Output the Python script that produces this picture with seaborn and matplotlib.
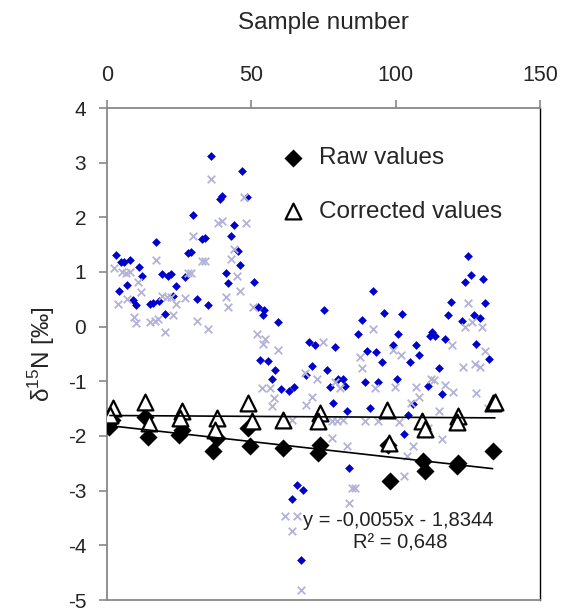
import numpy as np
import pandas as pd
import seaborn as sns
import matplotlib.pyplot as plt

sns.set_theme(style='white')
plt.rcParams['font.family'] = ['Liberation Sans', 'DejaVu Sans']
plt.rcParams['mathtext.fontset'] = 'custom'
plt.rcParams['mathtext.rm'] = 'Liberation Sans'
plt.rcParams['axes.unicode_minus'] = False

# blue diamonds: raw sample values
raw_x = [3, 4, 5, 6, 8, 7, 11, 12, 9, 10, 15, 16, 18, 17, 19, 21, 22, 20, 23, 24,
         27, 28.2, 29.1, 29.9, 31.1, 32.8, 33.9, 35.1, 36, 39.1, 39.9, 41.2, 42, 43, 44.1,
         45.3, 46.1, 46.9, 48.4, 50.8, 52.4, 54.4, 54.1, 59.1, 75.2, 92.2, 96.1, 88.2, 87.1,
         70.1, 72, 79, 100.9, 99.2, 125.2, 126.1, 124, 130.1, 119.2, 130.9, 102.1, 118,
         123.1, 127.1, 129.2, 112.5, 113.6, 111.9, 117.1, 106.9, 128, 53, 55.9, 58.2, 57,
         60.2, 63.1, 64.9, 70.9, 68.8, 76.1, 77.2, 80.1, 81.6, 82.4, 78.2, 83.2, 90, 93.2,
         95.1, 89.4, 94, 100.3, 91.1, 83.9, 65.7, 68, 64.2, 67.1, 108.1, 105, 115, 111.1,
         116.1, 106.1, 104.2, 103, 132.3]
raw_y = [1.31, 0.66, 1.18, 1.18, 1.22, 0.76, 1.10, 0.92, 0.48, 0.39, 0.41, 0.44, 0.47, 1.54,
         0.96, 0.93, 0.96, 0.24, 0.57, 0.75, 0.90, 1.34, 1.36, 2.04, 0.51, 1.60, 1.62, 0.39,
         3.13, 2.33, 2.39, 0.98, 0.80, 1.66, 1.86, 1.39, 1.13, 2.84, 2.38, 0.82, 0.36, 0.31,
         0.21, 0.08, 0.31, 0.65, 0.25, 0.13, -0.13, -0.28, -0.34, -0.37, -0.13, -0.34, 1.29,
         0.95, 0.82, 0.87, 0.45, 0.44, 0.24, 0.21, 0.11, 0.21, 0.15, -0.10, -0.17, -0.17,
         -0.23, -0.34, -0.31, -0.61, -0.62, -0.79, -0.96, -1.14, -1.17, -1.10, -0.72, -0.88,
         -0.79, -1.10, -0.95, -0.96, -1.09, -1.40, -1.55, -0.44, -0.46, -0.64, -1.02, -1.02,
         -0.95, -1.49, -2.58, -2.89, -2.98, -3.16, -4.26, -0.52, -0.64, -0.75, -1.08, -1.24,
         -1.41, -1.61, -1.96, -0.60]

# light crosses: corrected sample values
corr_x = [2.5, 3.9, 5.1, 6.5, 8, 6.8, 9.3, 10, 10.9, 11.8, 14.9, 16.5, 17.8, 17, 18.9, 20.7,
          22.2, 20.1, 23, 23.9, 27, 28.2, 29, 29.9, 31.1, 32.8, 34, 35.1, 36, 38.6, 39.7,
          41.2, 42, 43, 44.1, 45.1, 46.1, 47.6, 48, 50.7, 51.9, 54.7, 54.1, 74.9, 92.2,
          125.2, 124, 126.5, 130, 119.4, 59.3, 53.6, 56.5, 57.8, 57, 68.6, 70.9, 68.9, 72.6,
          64, 77.8, 79.8, 81.9, 77.8, 83, 79, 80.7, 87.6, 88.2, 92.8, 89.4, 94, 85.9, 84.8,
          83.9, 61.7, 65.7, 64, 67.1, 99.2, 99.8, 102, 130.9, 123.4, 127.5, 129.2, 112.2,
          113.4, 117.1, 120, 106.9, 108.1, 105.3, 128, 115, 132.1, 101, 111.1, 115.9, 106.1,
          103.8, 103]
corr_y = [1.08, 0.42, 1.00, 0.98, 1.00, 0.51, 0.17, 0.07, 0.81, 0.63, 0.08, 0.11, 0.14, 1.22,
          0.57, 0.54, 0.54, -0.10, 0.22, 0.42, 0.52, 0.98, 0.98, 1.66, 0.11, 1.20, 1.20, -0.04,
          2.71, 1.90, 1.93, 0.55, 0.36, 1.24, 1.42, 0.93, 0.66, 2.38, 1.90, 0.36, -0.13, -0.22,
          -0.31, -0.28, -0.04, 0.43, -0.01, 0.09, -0.01, -0.34, -0.43, -1.12, -1.13, -1.31,
          -1.46, -0.85, -1.28, -1.43, -0.95, -1.70, -1.73, -1.73, -1.70, -2.04, -2.19, -1.02,
          -1.13, -0.55, -0.76, -1.13, -1.73, -1.73, -2.95, -2.96, -3.22, -3.46, -3.46, -3.73,
          -4.82, -0.43, -1.10, -0.52, -0.44, -0.73, -0.69, -0.73, -0.95, -0.98, -1.07, -1.20,
          -1.10, -1.28, -1.40, -1.22, -1.55, -1.49, -1.75, -1.85, -2.05, -2.18, -2.37, -2.73]

# standards
std_raw_x = [0.8, 1.6, 13.2, 14.1, 25, 25.9, 36.8, 38, 48.9, 49.5, 61.1, 73.2, 73.8, 97.4,
             98, 109.3, 110.1, 121.7, 121.2, 133.6]
std_raw_y = [-1.84, -1.70, -1.66, -2.02, -1.98, -1.89, -2.28, -2.04, -1.85, -2.19, -2.22,
             -2.31, -2.16, -2.16, -2.82, -2.46, -2.64, -2.49, -2.55, -2.28]
std_corr_x = [2, 1.0, 13.2, 14.7, 25.9, 25.3, 38, 37.4, 48.9, 50.1, 61.1, 73.8, 73.2, 97.1,
              97.8, 109, 110.1, 121.7, 121.1, 133.6, 134.4]
std_corr_y = [-1.49, -1.62, -1.37, -1.76, -1.55, -1.67, -1.67, -1.89, -1.40, -1.73, -1.70,
              -1.58, -1.73, -1.52, -2.13, -1.73, -1.87, -1.64, -1.75, -1.40, -1.37]

x_ticks = [0, 50, 100, 150]
y_ticks = [-5, -4, -3, -2, -1, 0, 1, 2, 3, 4]

fig = plt.figure(figsize=(5.64, 6.13), dpi=100)
ax = fig.add_axes([107/564, 1 - 600/613, 433/564, 492/613])

sns.scatterplot(x=raw_x, y=raw_y, ax=ax, marker='D', s=20, color='#0000cc',
                linewidth=0, zorder=2)
sns.scatterplot(x=corr_x, y=corr_y, ax=ax, marker='x', s=30, color='#b3b3d9',
                linewidth=1.3, zorder=2)
sns.scatterplot(x=std_raw_x, y=std_raw_y, ax=ax, marker='D', s=85, color='black',
                linewidth=0, zorder=3, label='Raw values')
sns.scatterplot(x=std_corr_x, y=std_corr_y, ax=ax, marker='^', s=130, facecolor='white',
                edgecolor='black', linewidth=1.6, zorder=4, label='Corrected values')
sns.regplot(x=std_raw_x, y=std_raw_y, ax=ax, scatter=False, ci=None, truncate=True,
            line_kws=dict(color='black', lw=1.2, zorder=5))
sns.regplot(x=std_corr_x, y=std_corr_y, ax=ax, scatter=False, ci=None, truncate=True,
            line_kws=dict(color='black', lw=1.2, zorder=5))

ax.text(0.672, 0.162, 'y = -0,0055x - 1,8344', transform=ax.transAxes, ha='center',
        va='center', fontsize=14.5, color='#222222')
ax.text(0.677, 0.115, 'R² = 0,648', transform=ax.transAxes, ha='center',
        va='center', fontsize=14.5, color='#222222')

ax.set_xlim(0, 150)
ax.set_ylim(-5, 4)
ax.set_xticks(x_ticks)
ax.set_yticks(y_ticks)
ax.xaxis.tick_top()
ax.xaxis.set_label_position('top')
ax.set_xlabel('Sample number', fontsize=17.5, labelpad=26)
ax.set_ylabel(r'δ$^{15}$N [‰]', fontsize=17.5, labelpad=8)
ax.tick_params(axis='x', which='both', top=True, bottom=False, direction='out',
               length=6, width=1.2, color='#888888', labelsize=15.5, pad=10)
ax.tick_params(axis='y', which='both', left=True, direction='out', length=6,
               width=1.2, color='#888888', labelsize=15, pad=9)
for side in ['left', 'top', 'bottom']:
    ax.spines[side].set_color('#888888')
    ax.spines[side].set_linewidth(1.3)
ax.spines['right'].set_color('black')
ax.spines['right'].set_linewidth(1.0)

ax.legend(loc='upper left', bbox_to_anchor=(0.35, 0.94), frameon=False,
          fontsize=17.5, labelspacing=1.3, handletextpad=0.1, borderaxespad=0)

fig.savefig('out.png', dpi=100)
